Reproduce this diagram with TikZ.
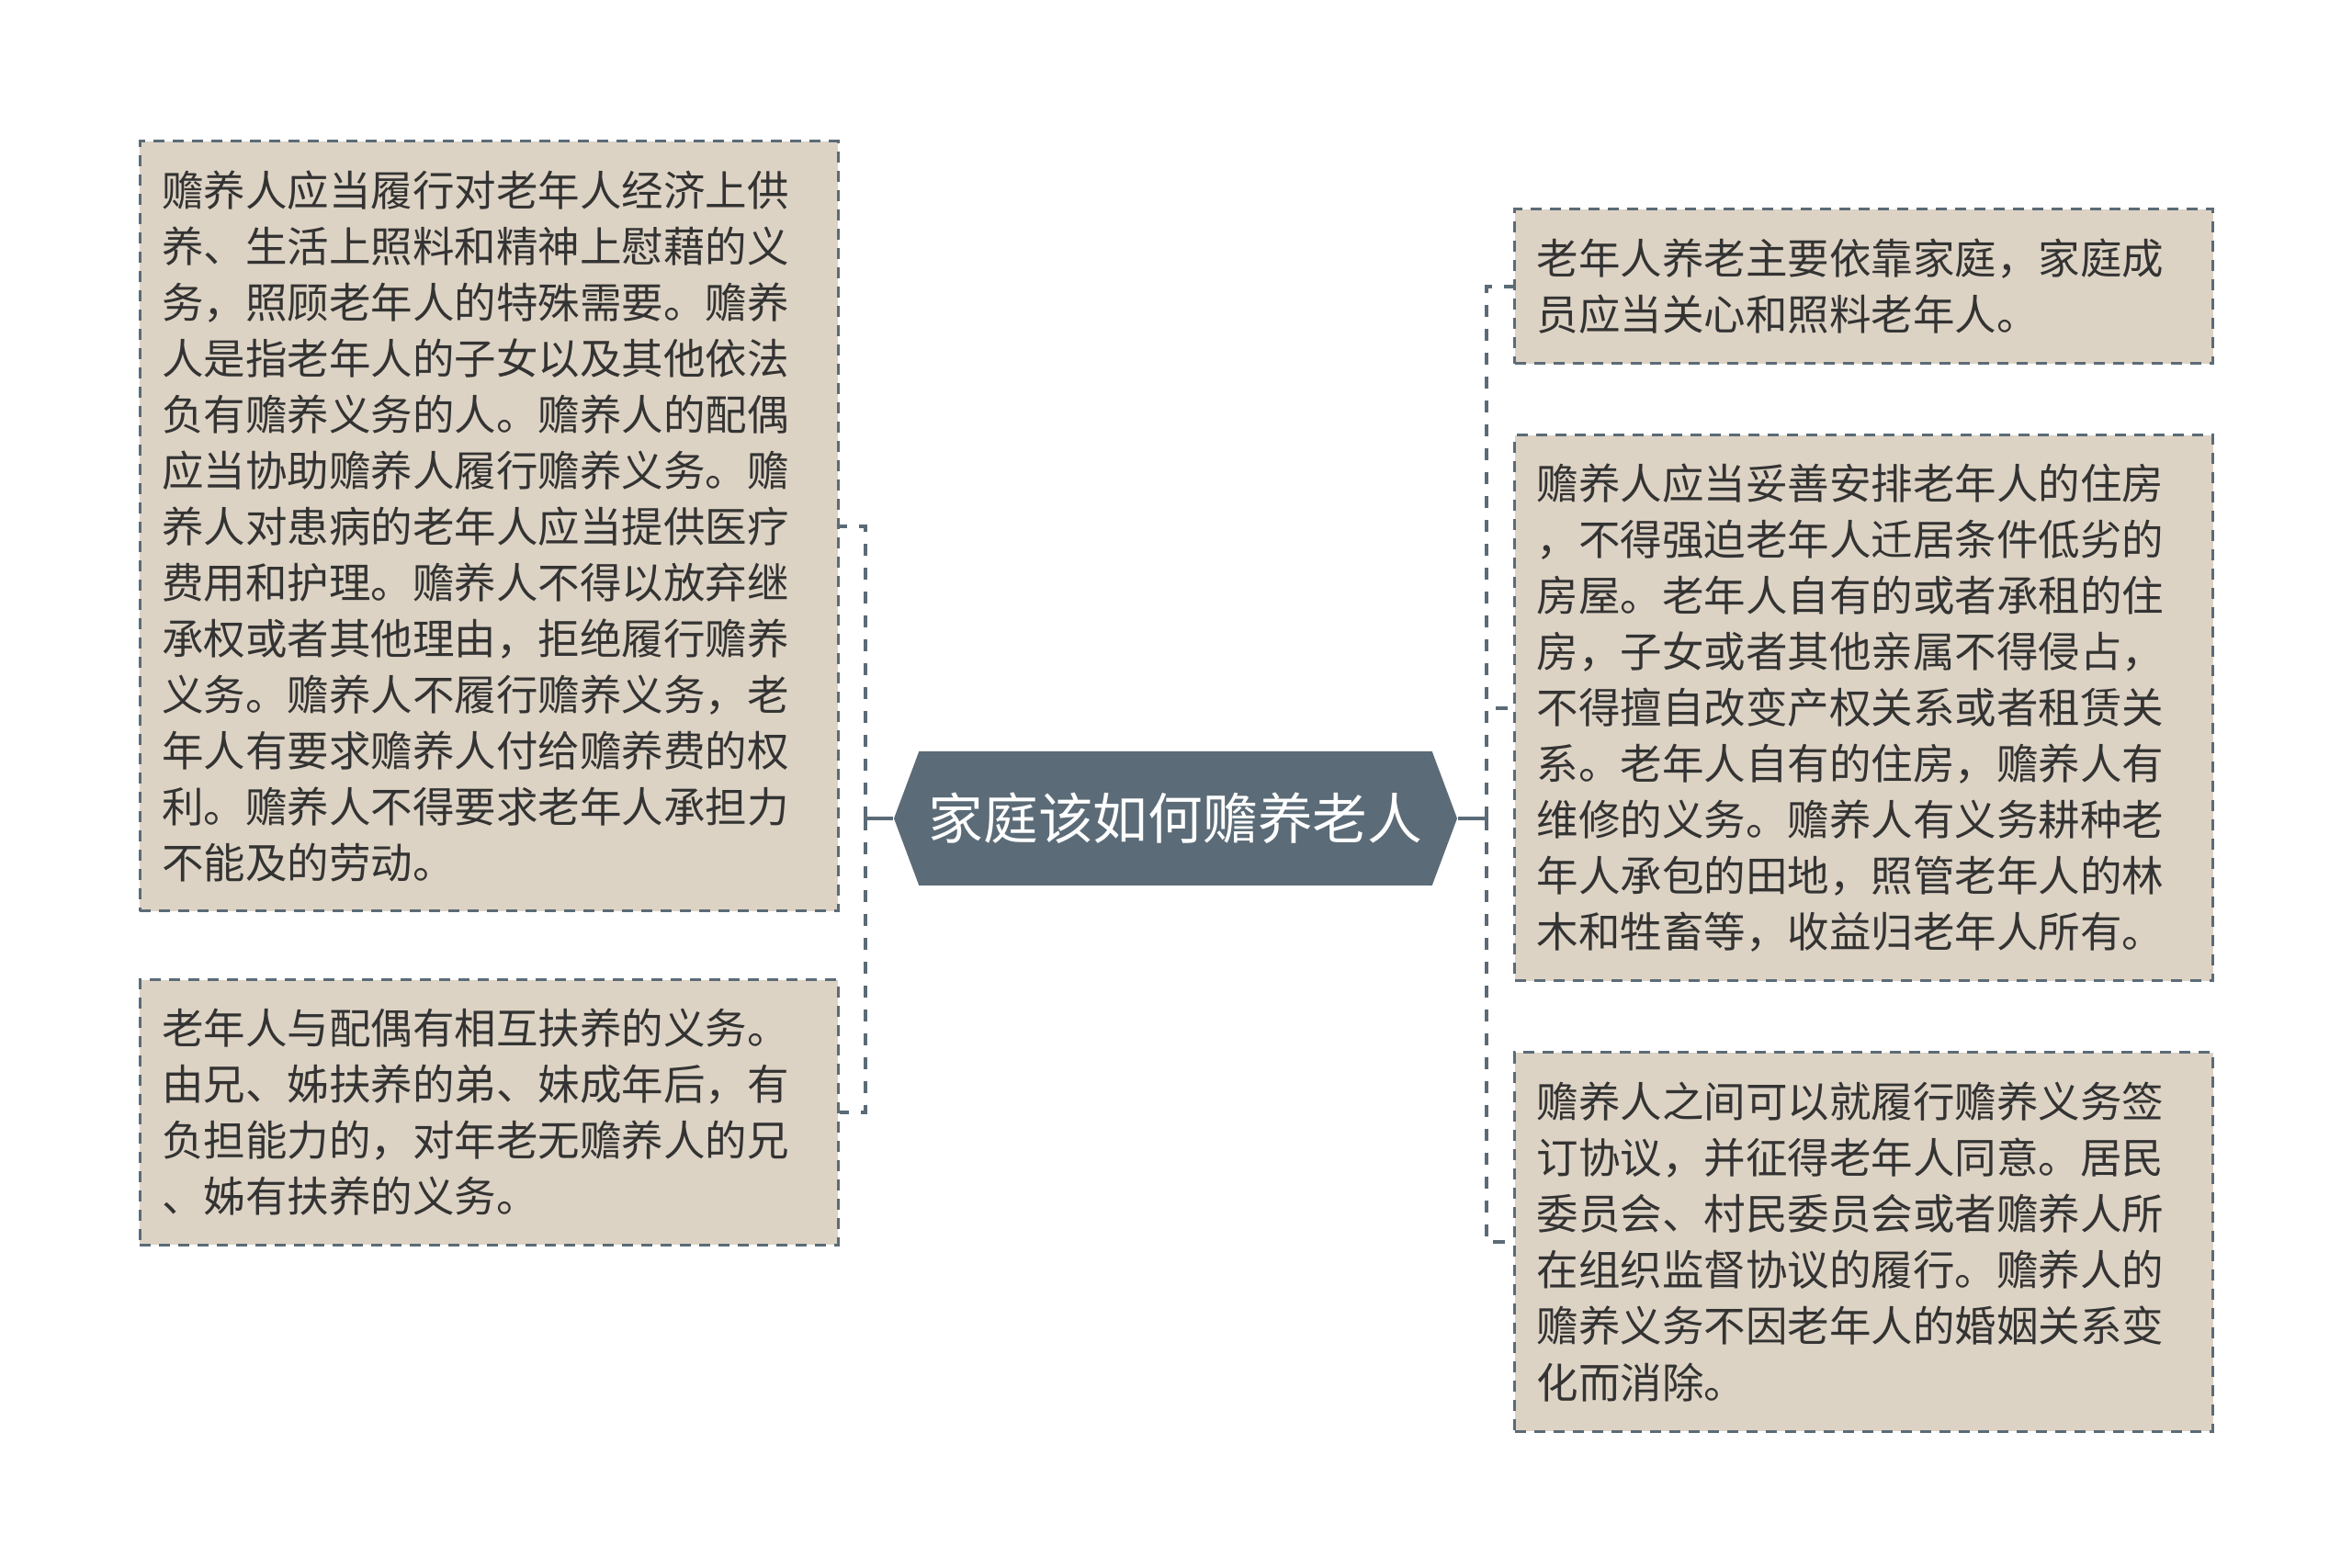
\documentclass[tikz,border=0pt]{standalone}
\usepackage{fontspec}
\newfontfamily\cjk{Noto Sans CJK SC}
\usetikzlibrary{shapes.symbols}
\definecolor{slate}{HTML}{5B6B77}
\definecolor{paper}{HTML}{DDD3C4}
\definecolor{ink}{HTML}{333333}

\begin{document}
\begin{tikzpicture}[font=\cjk,
    box/.style={rectangle, draw=slate, fill=paper, line width=0.3mm, dash pattern=on 1.2mm off 0.9mm, text=ink, text width=7.12cm, align=left, inner xsep=0.24cm, inner ysep=0pt, font=\cjk\fontsize{12.95pt}{17.36pt}\selectfont},
    hub/.style={signal, signal to=west and east, signal pointer angle=139, fill=slate, text=white, inner sep=0pt, minimum width=6.13cm, minimum height=1.46cm, font=\cjk\fontsize{17pt}{20pt}\selectfont},
    link/.style={draw=slate, line width=0.45mm},
    elbow/.style={link, dash pattern=on 1.3mm off 1.3mm, to path={|- (\tikztotarget)}}]
      \fill[white] (0,0) rectangle (25.6,-17.07);
      \useasboundingbox (0,0) rectangle (25.6,-17.07);

      \node[hub, name=hub] at (12.795,-8.91) {家庭该如何赡养老人};

      \node[box, name=lt, minimum height=8.38cm] at (5.32,-5.73) {赡养人应当履行对老年人经济上供\\养、生活上照料和精神上慰藉的义\\务，照顾老年人的特殊需要。赡养\\人是指老年人的子女以及其他依法\\负有赡养义务的人。赡养人的配偶\\应当协助赡养人履行赡养义务。赡\\养人对患病的老年人应当提供医疗\\费用和护理。赡养人不得以放弃继\\承权或者其他理由，拒绝履行赡养\\义务。赡养人不履行赡养义务，老\\年人有要求赡养人付给赡养费的权\\利。赡养人不得要求老年人承担力\\不能及的劳动。};
      \node[box, name=lb, minimum height=2.88cm] at (5.32,-12.11) {老年人与配偶有相互扶养的义务。\\由兄、姊扶养的弟、妹成年后，有\\负担能力的，对年老无赡养人的兄\\、姊有扶养的义务。};

      \node[box, name=rt, minimum height=1.68cm] at (20.285,-3.12) {老年人养老主要依靠家庭，家庭成\\员应当关心和照料老年人。};
      \node[box, name=rm, minimum height=5.94cm] at (20.285,-7.71) {赡养人应当妥善安排老年人的住房\\，不得强迫老年人迁居条件低劣的\\房屋。老年人自有的或者承租的住\\房，子女或者其他亲属不得侵占，\\不得擅自改变产权关系或者租赁关\\系。老年人自有的住房，赡养人有\\维修的义务。赡养人有义务耕种老\\年人承包的田地，照管老年人的林\\木和牲畜等，收益归老年人所有。};
      \node[box, name=rb, minimum height=4.12cm] at (20.285,-13.52) {赡养人之间可以就履行赡养义务签\\订协议，并征得老年人同意。居民\\委员会、村民委员会或者赡养人所\\在组织监督协议的履行。赡养人的\\赡养义务不因老年人的婚姻关系变\\化而消除。};

      \coordinate (lj) at (9.42,-8.91);
      \coordinate (rj) at (16.18,-8.91);

      \path[link]
         (hub.west) edge (lj)
         (hub.east) edge (rj);
      \path
         (lj) edge[elbow] (lt.east)
         (lj) edge[elbow] (lb.east)
         (rj) edge[elbow] (rt.west)
         (rj) edge[elbow] (rm.west)
         (rj) edge[elbow] (rb.west);
   \end{tikzpicture}
\end{document}
